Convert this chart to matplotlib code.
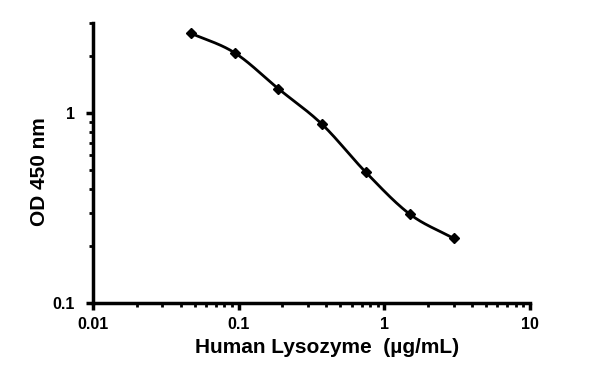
import numpy as np
import matplotlib
matplotlib.use("Agg")
import matplotlib.pyplot as plt
from matplotlib.ticker import FixedLocator, FixedFormatter, LogLocator, NullFormatter

# data
conc_ugml = [0.0469, 0.0938, 0.1875, 0.375, 0.75, 1.5, 3.0]
od450 = [2.65, 2.09, 1.35, 0.875, 0.488, 0.294, 0.219]
x_ticks = [0.01, 0.1, 1, 10]
x_tick_labels = ["0.01", "0.1", "1", "10"]
y_ticks = [0.1, 1]
y_tick_labels = ["0.1", "1"]


def smooth_curve(x, y, n=30):
    # Catmull-Rom through the points in log space, like a spreadsheet smoothed line
    lx, ly = np.log10(x), np.log10(y)
    px = np.concatenate([[2 * lx[0] - lx[1]], lx, [2 * lx[-1] - lx[-2]]])
    py = np.concatenate([[2 * ly[0] - ly[1]], ly, [2 * ly[-1] - ly[-2]]])
    ox, oy = [], []
    t = np.linspace(0, 1, n)
    for i in range(1, len(px) - 2):
        for p, o in ((px, ox), (py, oy)):
            p0, p1, p2, p3 = p[i - 1], p[i], p[i + 1], p[i + 2]
            o.extend(0.5 * ((2 * p1) + (-p0 + p2) * t
                            + (2 * p0 - 5 * p1 + 4 * p2 - p3) * t ** 2
                            + (-p0 + 3 * p1 - 3 * p2 + p3) * t ** 3))
    return 10 ** np.array(ox), 10 ** np.array(oy)


plt.rcParams['font.family'] = ['Liberation Sans', 'DejaVu Sans']

fig = plt.figure(figsize=(6, 3.65), dpi=100)
ax = fig.add_axes([0.155, 0.170, 0.728, 0.767])

sx, sy = smooth_curve(np.array(conc_ugml), np.array(od450))
ax.plot(sx, sy, color='black', linewidth=2)
ax.plot(conc_ugml, od450, linestyle='none', marker='D', markersize=5.5,
        color='black')

ax.set_xscale('log')
ax.set_yscale('log')
ax.set_xlim(0.01, 10)
ax.set_ylim(0.1, 3)

ax.xaxis.set_major_locator(FixedLocator(x_ticks))
ax.xaxis.set_major_formatter(FixedFormatter(x_tick_labels))
ax.xaxis.set_minor_locator(LogLocator(base=10, subs=np.arange(2, 10)))
ax.xaxis.set_minor_formatter(NullFormatter())
ax.yaxis.set_major_locator(FixedLocator(y_ticks))
ax.yaxis.set_major_formatter(FixedFormatter(y_tick_labels))
ax.yaxis.set_minor_locator(LogLocator(base=10, subs=np.arange(2, 10)))
ax.yaxis.set_minor_formatter(NullFormatter())

for side in ('top', 'right'):
    ax.spines[side].set_visible(False)
for side in ('left', 'bottom'):
    ax.spines[side].set_linewidth(2.5)

ax.tick_params(which='major', direction='out', length=5, width=2.5,
               labelsize=11.5)
ax.tick_params(axis='y', which='major', pad=8)
ax.tick_params(axis='x', which='major', pad=5)
ax.tick_params(which='minor', direction='out', length=3, width=2)
for lab in ax.get_xticklabels() + ax.get_yticklabels():
    lab.set_fontweight('bold')

ax.set_xlabel("Human Lysozyme  (\u00b5g/mL)", fontsize=15, fontweight='bold')
ax.set_ylabel("OD 450 nm", fontsize=15, fontweight='bold')
ax.xaxis.set_label_coords(0.535, -0.125)
ax.yaxis.set_label_coords(-0.10, 0.468)

fig.savefig("out.png", dpi=100)
